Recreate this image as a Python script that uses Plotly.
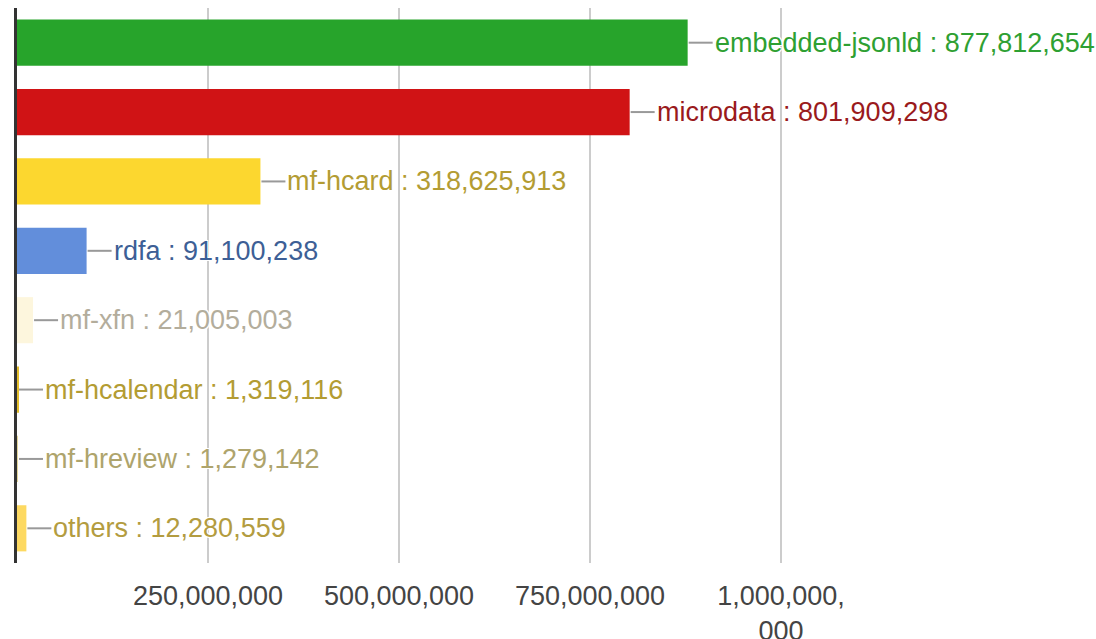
import plotly.graph_objects as go

# Structured-data formats and the number of pages using each
formats = ["embedded-jsonld", "microdata", "mf-hcard", "rdfa",
           "mf-xfn", "mf-hcalendar", "mf-hreview", "others"]
counts = [877812654, 801909298, 318625913, 91100238,
          21005003, 1319116, 1279142, 12280559]

bar_colors = ["#27a42b", "#d01315", "#fcd72f", "#628edb",
              "#fdf6dd", "#e3bd2c", "#e2d49a", "#fdd961"]
label_colors = ["#2ea032", "#9a1a1c", "#b39c33", "#3d5f96",
                "#b3ad9c", "#b39c33", "#aea46c", "#b39c40"]

tick_vals = [250_000_000, 500_000_000, 750_000_000, 1_000_000_000]
tick_text = ["250,000,000", "500,000,000", "750,000,000", "1,000,000,<br>000"]

W, H = 1096, 639
ML, MR, MT, MB = 17, 0, 8, 76
px_per_unit = 573 / 750_000_000
x_max = (W - ML - MR) / px_per_unit

FONT = "Arial, 'Liberation Sans', sans-serif"

fig = go.Figure(go.Bar(
    x=counts,
    y=formats,
    orientation="h",
    marker=dict(color=bar_colors, line=dict(width=0)),
    hoverinfo="skip",
))

halo = "1px 1px 0 #fff, -1px -1px 0 #fff, 1px -1px 0 #fff, -1px 1px 0 #fff"

for name, val, lc in zip(formats, counts, label_colors):
    # leader line from the bar end to its label
    fig.add_shape(
        type="line", xref="x", yref="y",
        xsizemode="pixel", xanchor=val, x0=1, x1=25,
        y0=name, y1=name,
        line=dict(color="#999999", width=2),
    )
    fig.add_annotation(
        x=val, y=name, xref="x", yref="y",
        text=f"{name} : {val:,}",
        showarrow=False, xanchor="left", yanchor="middle",
        xshift=25,
        font=dict(family=FONT, size=27, color=lc, shadow=halo),
    )

fig.update_layout(
    width=W, height=H,
    margin=dict(l=ML, r=MR, t=MT, b=MB, autoexpand=False),
    paper_bgcolor="white", plot_bgcolor="white",
    showlegend=False,
    bargap=0.335,
    font=dict(family=FONT),
)
fig.update_xaxes(
    range=[0, x_max],
    tickvals=tick_vals, ticktext=tick_text,
    tickfont=dict(size=27, color="#444444"),
    showgrid=True, gridcolor="#cccccc", gridwidth=2,
    zeroline=False, showline=False, ticks="",
    ticklabelstandoff=14, automargin=False,
)
fig.update_yaxes(
    autorange="reversed",
    showticklabels=False, showgrid=False, zeroline=False,
    showline=True, linecolor="#333333", linewidth=2.5,
    ticks="", automargin=False,
)

fig.write_html("out.html")
